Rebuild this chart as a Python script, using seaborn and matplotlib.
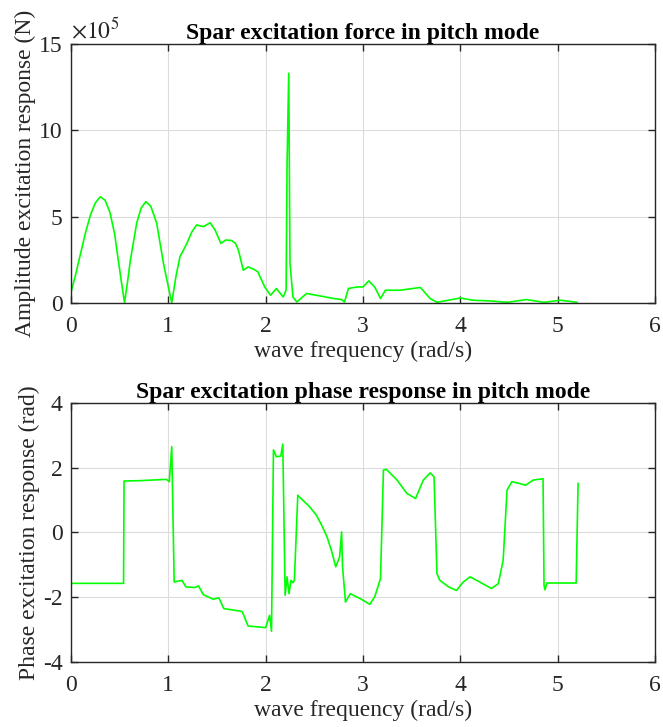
import matplotlib
matplotlib.use("Agg")
import matplotlib.pyplot as plt
import seaborn as sns
import pandas as pd

# Excitation force amplitude (units of 1e5 N) versus wave frequency (rad/s)
amp_freq = [0.0, 0.05, 0.09, 0.15, 0.2, 0.25, 0.30, 0.35, 0.40, 0.45, 0.47, 0.52, 0.55,
            0.58, 0.61, 0.675, 0.72, 0.77, 0.82, 0.88, 0.95, 1.0, 1.035,
            1.08, 1.12, 1.155, 1.19, 1.24, 1.29, 1.36, 1.43, 1.48, 1.54, 1.59, 1.65,
            1.69, 1.72, 1.77, 1.82, 1.88, 1.92, 1.99, 2.05, 2.11, 2.18, 2.21, 2.22,
            2.237, 2.25, 2.28, 2.32, 2.42, 2.52, 2.70, 2.78, 2.81, 2.85, 2.94, 3.00,
            3.06, 3.12, 3.18, 3.23, 3.38, 3.59, 3.69, 3.76, 4.00, 4.13, 4.31, 4.48,
            4.68, 4.86, 5.03, 5.20]
amp_value = [0.62, 1.7, 2.67, 4.1, 5.1, 5.8, 6.15, 5.95, 5.25, 3.95, 3.1, 1.14, 0.02,
             1.2, 2.48, 4.63, 5.5, 5.87, 5.6, 4.63, 2.3, 0.93, 0.02,
             1.6, 2.7, 3.06, 3.45, 4.1, 4.52, 4.42, 4.65, 4.23, 3.45, 3.65, 3.62,
             3.45, 3.06, 1.9, 2.09, 1.95, 1.8, 0.93, 0.45, 0.84, 0.35, 0.74, 8.1,
             13.3, 2.3, 0.35, 0.06, 0.55, 0.45, 0.26, 0.2, 0.06, 0.84, 0.93, 0.93,
             1.28, 0.93, 0.26, 0.74, 0.74, 0.9, 0.26, 0.04, 0.29, 0.16, 0.12, 0.04,
             0.2, 0.04, 0.16, 0.04]

# Excitation phase (rad) versus wave frequency (rad/s)
phase_freq = [0.0, 0.54, 0.545, 0.7, 0.98, 1.01, 1.035, 1.06, 1.14, 1.18, 1.27, 1.31,
              1.36, 1.46, 1.52, 1.57, 1.74, 1.76, 1.82, 1.94, 2.00, 2.04, 2.06, 2.08,
              2.11, 2.155, 2.176, 2.20, 2.22, 2.24, 2.26, 2.28, 2.295, 2.33, 2.38,
              2.45, 2.52, 2.58, 2.63, 2.68, 2.72, 2.76, 2.78, 2.79, 2.82, 2.87, 2.97,
              3.07, 3.12, 3.18, 3.21, 3.24, 3.35, 3.45, 3.54, 3.62, 3.69, 3.73, 3.76,
              3.79, 3.88, 3.96, 4.03, 4.10, 4.20, 4.32, 4.39, 4.44, 4.48, 4.53, 4.60,
              4.67, 4.75, 4.85, 4.86, 4.87, 4.89, 5.19, 5.21]
phase_value = [-1.571, -1.571, 1.59, 1.60, 1.64, 1.57, 2.65, -1.53, -1.48, -1.68, -1.70,
               -1.65, -1.92, -2.06, -2.02, -2.35, -2.43, -2.45, -2.89, -2.92, -2.94,
               -2.56, -3.05, 2.55, 2.34, 2.36, 2.73, -1.94, -1.37, -1.89, -1.48, -1.55,
               -1.48, 1.15, 1.0, 0.8, 0.54, 0.2, -0.13, -0.6, -1.06, -0.75, 0.02, -1.06,
               -2.15, -1.89, -2.04, -2.22, -1.99, -1.42, 1.93, 1.95, 1.62, 1.21, 1.05,
               1.62, 1.84, 1.72, -1.27, -1.48, -1.68, -1.79, -1.53, -1.37, -1.53, -1.73,
               -1.58, -0.86, 1.31, 1.57, 1.52, 1.46, 1.62, 1.66, -1.63, -1.77, -1.56,
               -1.56, 1.52]

x_ticks = [0, 1, 2, 3, 4, 5, 6]
amp_ticks = [0, 5, 10, 15]
phase_ticks = [-4, -2, 0, 2, 4]

sns.set_style("whitegrid")
plt.rcParams["font.family"] = ["Liberation Serif", "DejaVu Serif"]
plt.rcParams["mathtext.fontset"] = "stix"

FS = 17
line_color = "#00ff00"
edge = "#262626"

fig = plt.figure(figsize=(6.63, 7.27), dpi=100)
ax1 = fig.add_axes([0.1071, 0.5832, 0.8808, 0.3563])
ax2 = fig.add_axes([0.1071, 0.0894, 0.8808, 0.3563])

amp_df = pd.DataFrame({"freq": amp_freq, "amp": amp_value})
phase_df = pd.DataFrame({"freq": phase_freq, "phase": phase_value})

sns.lineplot(data=amp_df, x="freq", y="amp", ax=ax1, color=line_color,
             linewidth=1.2, sort=False, estimator=None)
sns.lineplot(data=phase_df, x="freq", y="phase", ax=ax2, color=line_color,
             linewidth=1.2, sort=False, estimator=None)

panels = [
    (ax1, amp_ticks, (0, 15), "Amplitude excitation response (N)",
     "Spar excitation force in pitch mode"),
    (ax2, phase_ticks, (-4, 4), "Phase excitation response (rad)",
     "Spar excitation phase response in pitch mode"),
]
for ax, yt, ylim, ylab, title in panels:
    ax.set_xlim(0, 6)
    ax.set_ylim(*ylim)
    ax.set_xticks(x_ticks)
    ax.set_yticks(yt)
    ax.set_xticklabels([str(v) for v in x_ticks])
    ax.set_yticklabels([str(v) for v in yt])
    ax.grid(True, color="#dcdcdc", linewidth=0.8)
    for s in ax.spines.values():
        s.set_visible(True)
        s.set_color(edge)
        s.set_linewidth(1.0)
    ax.tick_params(axis="both", which="both", direction="in", length=5, width=1.0,
                   color=edge, labelsize=FS, labelcolor="#262626",
                   top=True, right=True, bottom=True, left=True)
    ax.tick_params(axis="x", pad=9)
    ax.tick_params(axis="y", pad=6)
    ax.set_xlabel("wave frequency (rad/s)", fontsize=FS, color="#262626", labelpad=3)
    ax.set_ylabel(ylab, fontsize=FS, color="#262626", labelpad=2)
    ax.set_title(title, fontsize=FS, fontweight="bold", color="black", pad=3)

ax1.text(0.0, 1.005, r"$\times10^{5}$", transform=ax1.transAxes, fontsize=FS,
         ha="left", va="bottom", color="#262626")

fig.savefig("out.png", dpi=100)
